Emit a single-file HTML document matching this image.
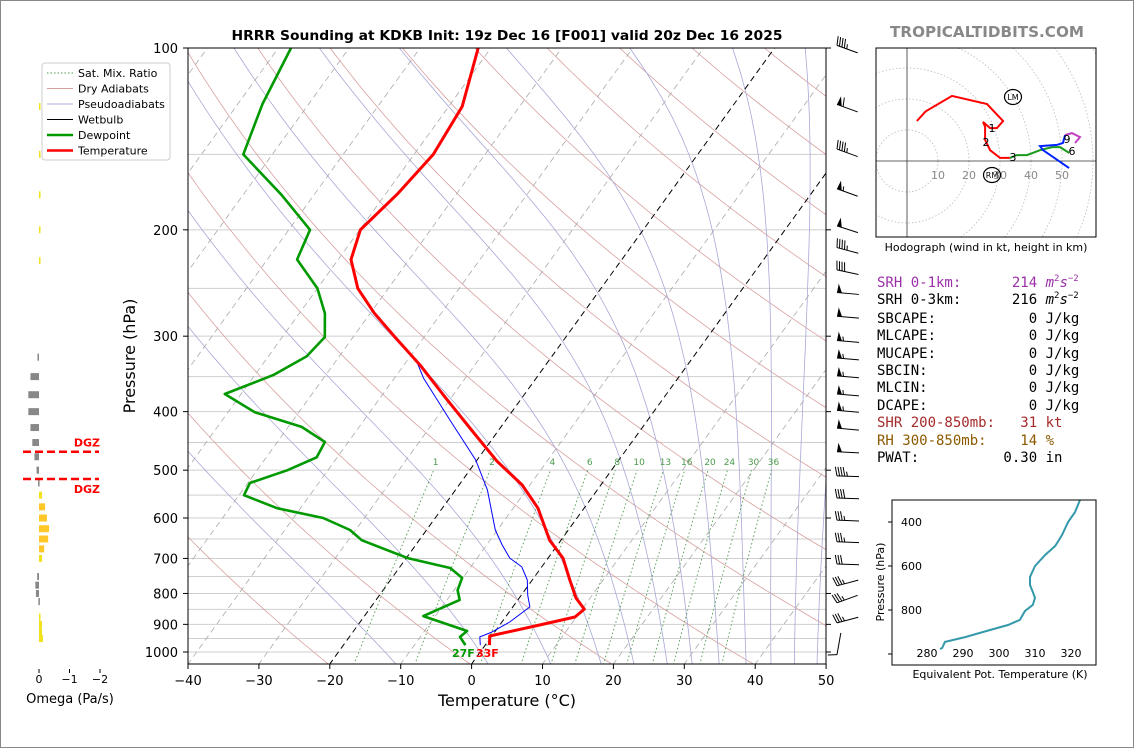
<!DOCTYPE html>
<html><head><meta charset="utf-8"><style>
html,body{margin:0;padding:0;background:#fff;}
svg{display:block;font-family:"DejaVu Sans","Liberation Sans",sans-serif;}
.mono{font-family:"DejaVu Sans Mono","Liberation Mono",monospace;font-size:14px;}
</style></head><body>
<svg id="fig" width="1134" height="748" viewBox="0 0 1134 748" xmlns="http://www.w3.org/2000/svg">
<rect x="0.5" y="0.5" width="1133" height="747" fill="#fff" stroke="#888"/>
<defs>
<clipPath id="mainclip"><rect x="188" y="48" width="638" height="616"/></clipPath>
<clipPath id="hodoclip"><rect x="876" y="48" width="220" height="189"/></clipPath>
</defs>
<text x="507" y="40" text-anchor="middle" font-size="13" font-weight="bold" textLength="551" lengthAdjust="spacingAndGlyphs">HRRR Sounding at KDKB Init: 19z Dec 16 [F001] valid 20z Dec 16 2025</text>
<text x="987" y="37" text-anchor="middle" font-size="15" font-weight="bold" fill="#888" textLength="194" lengthAdjust="spacingAndGlyphs">TROPICALTIDBITS.COM</text>
<g id="bg" clip-path="url(#mainclip)"></g>
<g id="series" clip-path="url(#mainclip)"></g>
<rect x="188" y="48" width="638" height="616" fill="none" stroke="#000" stroke-width="1"/>
<g id="axes"></g>
<text x="135" y="356" transform="rotate(-90 135 356)" text-anchor="middle" font-size="16">Pressure (hPa)</text>
<text x="507" y="706" text-anchor="middle" font-size="16">Temperature (°C)</text>
<text x="452" y="657" font-size="11" font-weight="bold" fill="#009900">27F</text>
<text x="476" y="657" font-size="11" font-weight="bold" fill="#ff0000">33F</text>
<g id="legend">
<rect x="42" y="63" width="128" height="97" fill="#fff" stroke="#ccc" rx="3"/>
</g>
<g id="barbs"></g>
<g id="omega"></g>
<text x="70" y="703" text-anchor="middle" font-size="13">Omega (Pa/s)</text>
<g id="hodo"></g>
<text x="986" y="251" text-anchor="middle" font-size="11">Hodograph (wind in kt, height in km)</text>
<g class="mono">
<text x="877" y="287" fill="#9b30a8" xml:space="preserve">SRH 0-1km:      214 <tspan font-style="italic">m</tspan><tspan font-size="9" dy="-6">2</tspan><tspan font-style="italic" dy="6">s</tspan><tspan font-size="9" dy="-6">−2</tspan></text>
<text x="877" y="304" xml:space="preserve">SRH 0-3km:      216 <tspan font-style="italic">m</tspan><tspan font-size="9" dy="-6">2</tspan><tspan font-style="italic" dy="6">s</tspan><tspan font-size="9" dy="-6">−2</tspan></text>
<text x="877" y="323" xml:space="preserve">SBCAPE:           0 J/kg</text>
<text x="877" y="340" xml:space="preserve">MLCAPE:           0 J/kg</text>
<text x="877" y="358" xml:space="preserve">MUCAPE:           0 J/kg</text>
<text x="877" y="375" xml:space="preserve">SBCIN:            0 J/kg</text>
<text x="877" y="392" xml:space="preserve">MLCIN:            0 J/kg</text>
<text x="877" y="410" xml:space="preserve">DCAPE:            0 J/kg</text>
<text x="877" y="427" fill="#a52a2a" xml:space="preserve">SHR 200-850mb:   31 kt</text>
<text x="877" y="445" fill="#8b5a00" xml:space="preserve">RH 300-850mb:    14 %</text>
<text x="877" y="462" xml:space="preserve">PWAT:          0.30 in</text>
</g>
<g id="thetae"></g>
<text x="1000" y="678" text-anchor="middle" font-size="11">Equivalent Pot. Temperature (K)</text>
<text x="884" y="582" transform="rotate(-90 884 582)" text-anchor="middle" font-size="11">Pressure (hPa)</text>
</svg>
<script>
// ---------- data ----------
const tempP = [100,125,150,174,200,224,250,275,301,335,380,434,483,529,578,653,699,760,814,849,875,902,941,974];
const tempT = [-61.8,-58.1,-57.3,-58.3,-59.9,-58.2,-54.3,-49.4,-44.1,-37.7,-30.7,-23.2,-17.1,-11.1,-6.5,-1.6,2.1,5.3,8.0,10.3,9.8,5.7,-0.3,0.6];
const dewP = [100,124,150,175,200,224,250,275,301,324,348,374,401,424,449,476,500,525,550,578,600,628,653,699,726,754,790,820,872,923,944,974];
const dewT = [-88.2,-86.5,-84.1,-74.6,-67,-65.8,-60,-56.4,-54,-54.6,-57.4,-62.3,-56.2,-48.1,-43.3,-42.9,-45.7,-49.7,-49.3,-43.3,-35.8,-30.8,-28.1,-19.8,-12.8,-10.1,-9.5,-8.2,-11.7,-4,-4.4,-2.8];
const wbP = [100,125,150,174,200,224,250,275,301,330,352,413,481,539,628,665,699,723,760,805,842,892,927,944,974];
const wbT = [-61.8,-58.1,-57.3,-58.3,-59.9,-58.2,-54.3,-49.4,-44.1,-38.6,-35.9,-27.9,-20.2,-15.5,-10.3,-7.8,-5.4,-2.8,-0.7,0.9,2.4,1.1,-0.4,-1.6,-0.7];
const pressureTicks = [100,200,300,400,500,600,700,800,900,1000];
const tempTicks = [-40,-30,-20,-10,0,10,20,30,40,50];
const mixRatios = [1,2,4,6,8,10,13,16,20,24,30,36];
const barbP = [99,124,147,171,197,214,233,254,278,305,326,349,374,398,426,466,511,556,605,657,715,777,829,895,1010];
const barbSpd = [45,60,45,55,50,45,40,50,50,55,55,55,55,55,50,50,45,40,35,35,30,35,35,35,10];
const barbDir = [290,290,290,290,288,285,282,275,275,275,275,275,275,275,275,273,272,272,272,272,272,255,250,255,190];
const omegaP = [125,150,175,200,225,325,350,375,400,425,450,475,500,525,550,575,600,625,650,675,700,725,750,775,800,825,850,875,900,925,950];
const omegaV = [-0.05,-0.05,-0.05,-0.05,-0.05,0.05,0.28,0.35,0.35,0.28,0.22,0.15,0.08,0.03,-0.1,-0.2,-0.26,-0.33,-0.3,-0.17,-0.1,0,0.06,0.12,0.1,0.02,0,-0.03,-0.1,-0.1,-0.13];
const dgzP = [466,517];
const hodoRedU = [3.2,6,14.5,25.8,31,29,26.8,24.5,25.2,25.2,26.8,30,33.2];
const hodoRedV = [12.9,16,21,18.4,12.9,10.6,10.6,12.6,11,6.8,3.5,1,1];
const hodoGreenU = [33.2,35.5,38.7,42.9,46.8,49.4,52.3];
const hodoGreenV = [1,1.9,1.9,3.5,4.5,4.5,2.6];
const hodoBlueU = [52.3,43.9,42.9,48.4,50.3,51];
const hodoBlueV = [-2.3,3.5,4.8,5.2,5.8,8.4];
const hodoMagU = [51,53.2,55.8,54.2];
const hodoMagV = [8.4,9,7.7,5.8];
const thetaeT = [322.5,321.1,319.2,317.5,315.6,312.8,310,308.6,308.6,309.4,310,309.4,307.2,305.8,302.5,297.5,290.6,285,284.2,283.6];
const thetaeP = [300,355,400,459,509,550,600,650,686,718,745,777,805,845,868,891,923,945,973,977];
const moistStartT = [-10.5,2.5,11.3,18.4,23,27.7,31.2,35,38.8,42.3,45.6,48.8];

// ---------- helpers ----------
const NS = "http://www.w3.org/2000/svg";
function mk(tag, attrs, parent){const e=document.createElementNS(NS,tag);for(const k in attrs)e.setAttribute(k,attrs[k]);parent.appendChild(e);return e;}
function yP(p){return 48 + 604*Math.log10(p/100);}
function xT(T,p){return 188 + (T+40)*7.09 + (664 - yP(p))*0.722;}
function pts(arrX, arrY){return arrX.map((v,i)=>v.toFixed(1)+","+arrY[i].toFixed(1)).join(" ");}
function es(Tc){return 6.112*Math.exp(17.67*Tc/(Tc+243.5));}

const bg = document.getElementById('bg');
const pLevels=[]; for(let p=1050;p>=100;p-=5)pLevels.push(p);

// pressure grid
for(let p=100;p<=1050;p+=50){
  const l=mk('line',{x1:188,x2:826,y1:yP(p),y2:yP(p),stroke:'#cfcfcf','stroke-width':1},bg);
  
  
}
// dry adiabats
for(let t0=-60;t0<=260;t0+=20){
  const th=t0+273.15;
  const xs=pLevels.map(p=>xT(th*Math.pow(p/1050,0.286)-273.15,p)), ys=pLevels.map(yP);
  const e=mk('polyline',{points:pts(xs,ys),fill:'none',stroke:'#d9a0a0','stroke-width':0.8},bg);
  
  
}
// moist adiabats
moistStartT.forEach(t0=>{
  let T=t0+273.15; const xs=[],ys=[];
  for(let p=1050;p>=100;p-=2){
    if(p%10===0){xs.push(xT(T-273.15,p));ys.push(yP(p));}
    const Tc=T-273.15, e=es(Tc), rs=0.622*e/(p-e);
    const num=287*T+2.5e6*rs, den=1004+2.5e6*2.5e6*rs*0.622/(287*T*T);
    T -= (num/den)/p*2;
  }
  const e=mk('polyline',{points:pts(xs,ys),fill:'none',stroke:'#a8a8d8','stroke-width':0.8},bg);
  
  
});
// isotherms
for(let t=-120;t<=50;t+=10){
  const black=(t===0||t===-20);
  const e=mk('line',{x1:xT(t,1050),y1:yP(1050),x2:xT(t,100),y2:yP(100),stroke:black?'#000':'#aaa','stroke-width':black?1:0.8,'stroke-dasharray':'6,4'},bg);
  
  
}
// mixing ratio
mixRatios.forEach(w=>{
  const xs=[],ys=[];
  for(let p=1050;p>=500;p-=10){const e=w*p/(622+w);const l=Math.log(e/6.112);const Td=243.5*l/(17.67-l);xs.push(xT(Td,p));ys.push(yP(p));}
  const e=mk('polyline',{points:pts(xs,ys),fill:'none',stroke:'#4a9a4a','stroke-width':0.9,'stroke-dasharray':'1.5,2.5'},bg);
  
  
  const tx=mk('text',{x:xs[xs.length-1]+2,y:yP(490),'font-size':9,fill:'#4a9a4a','text-anchor':'middle'},bg);
  tx.textContent=w;
  
  
});

// series
const series=document.getElementById('series');
function drawProfile(P,T,color,width,name){
  const e=mk('polyline',{points:pts(T.map((t,i)=>xT(t,P[i])),P.map(yP)),fill:'none',stroke:color,'stroke-width':width,'stroke-linejoin':'round'},series);
  
  
}
drawProfile(dewP,dewT,'#009900',2.6,'dewpoint-line');
drawProfile(wbP,wbT,'#0000ff',1,'wetbulb-line');
drawProfile(tempP,tempT,'#ff0000',3,'temperature-line');

// axes ticks
const axes=document.getElementById('axes');
pressureTicks.forEach(p=>{
  const y=yP(p);
  const l=mk('line',{x1:183,x2:188,y1:y,y2:y,stroke:'#000'},axes);
  
  
  const l2=mk('line',{x1:826,x2:831,y1:y,y2:y,stroke:'#000'},axes);
  
  
  const t=mk('text',{x:178,y:y+5,'text-anchor':'end','font-size':13},axes);
  t.textContent=p;
  
  
});
tempTicks.forEach(T=>{
  const x=188+(T+40)*7.09;
  const l=mk('line',{x1:x,x2:x,y1:664,y2:669,stroke:'#000'},axes);
  
  
  const t=mk('text',{x:x,y:685,'text-anchor':'middle','font-size':13},axes);
  t.textContent=(T<0?'−'+(-T):T);
  
  
});

// legend
const legend=document.getElementById('legend');
const legItems=[['Sat. Mix. Ratio','#4a9a4a',1,'1.5,2'],['Dry Adiabats','#d9a0a0',1,''],['Pseudoadiabats','#a8a8d8',1,''],['Wetbulb','#000',1,''],['Dewpoint','#009900',2.5,''],['Temperature','#ff0000',2.5,'']];
legItems.forEach((it,i)=>{
  const y=73+i*15.5;
  const l=mk('line',{x1:47,x2:73,y1:y,y2:y,stroke:it[1],'stroke-width':it[2]},legend);
  if(it[3])l.setAttribute('stroke-dasharray',it[3]);
  
  
  const t=mk('text',{x:78,y:y+4,'font-size':11},legend);
  t.textContent=it[0];
  
  
});

// wind barbs
const barbs=document.getElementById('barbs');
barbP.forEach((p,i)=>{
  const th=(barbDir[i]-270)*Math.PI/180;
  const Lx=837,Ly=yP(p);
  const ux=Math.cos(th),uy=Math.sin(th), nx=Math.sin(th), ny=-Math.cos(th);
  const g=mk('g',{},barbs);
  
  
  mk('line',{x1:Lx,y1:Ly,x2:Lx+22*ux,y2:Ly+22*uy,stroke:'#000','stroke-width':1},g);
  let s=barbSpd[i], pos=0;
  while(s>=50){
    const a=[Lx+pos*ux,Ly+pos*uy],b=[Lx+(pos+5)*ux,Ly+(pos+5)*uy],c=[a[0]+9*nx+1*ux,a[1]+9*ny+1*uy];
    mk('polygon',{points:a.join(',')+' '+c.join(',')+' '+b.join(','),fill:'#000'},g);
    pos+=6.5; s-=50;
  }
  while(s>=10){
    const a=[Lx+pos*ux,Ly+pos*uy];
    mk('line',{x1:a[0],y1:a[1],x2:a[0]+9*nx-2*ux,y2:a[1]+9*ny-2*uy,stroke:'#000','stroke-width':1},g);
    pos+=2.6; s-=10;
  }
  if(s>=5){
    if(pos===0)pos=2.6;
    const a=[Lx+pos*ux,Ly+pos*uy];
    mk('line',{x1:a[0],y1:a[1],x2:a[0]+4.5*nx-1*ux,y2:a[1]+4.5*ny-1*uy,stroke:'#000','stroke-width':1},g);
  }
});

// omega panel
const om=document.getElementById('omega');
const zeroX=39, perUnit=30.5;
omegaP.forEach((p,i)=>{
  const v=omegaV[i]; if(v===0)return;
  const x2=zeroX - v*perUnit;
  const col=v>0?'#888':(v<-0.15?'#ffc828':'#f2e21e');
  const r=mk('rect',{x:Math.min(zeroX,x2),y:yP(p)-3.5,width:Math.max(1.5,Math.abs(x2-zeroX)),height:7,fill:col},om);
  
  
});
dgzP.forEach((p,i)=>{
  const y=yP(p);
  const l=mk('line',{x1:23,x2:99,y1:y,y2:y,stroke:'#ff0000','stroke-width':2.5,'stroke-dasharray':'8,4'},om);
  
  
  const t=mk('text',{x:100,y:i===0?y-5:y+14,'text-anchor':'end','font-size':11,'font-weight':'bold',fill:'#ff0000'},om);
  t.textContent='DGZ';
  
  
});
[0,-1,-2].forEach(v=>{
  const x=zeroX - v*perUnit;
  const l=mk('line',{x1:x,x2:x,y1:669,y2:673,stroke:'#000'},om);
  
  
  const t=mk('text',{x:x,y:683,'text-anchor':'middle','font-size':11},om);
  t.textContent=v===0?'0':'−'+(-v);
  
  
});

// hodograph
const hodo=document.getElementById('hodo');
const hx=907,hy=161,hs=3.1;
const hc=mk('g',{'clip-path':'url(#hodoclip)'},hodo);
for(let r=10;r<=80;r+=10){
  const c=mk('circle',{cx:hx,cy:hy,r:r*hs,fill:'none',stroke:'#bbb','stroke-width':0.8,'stroke-dasharray':'1.5,2'},hc);
  
  
}
mk('line',{x1:hx,x2:hx,y1:48,y2:237,stroke:'#333','stroke-width':0.8},hc);
mk('line',{x1:876,x2:1096,y1:hy,y2:hy,stroke:'#333','stroke-width':0.8},hc);
[10,20,30,40,50].forEach(r=>{
  const t=mk('text',{x:hx+r*hs,y:hy+18,'text-anchor':'middle','font-size':11,fill:'#888'},hc);
  t.textContent=r;
  
  
});
function hodoLine(U,V,col,name){
  const e=mk('polyline',{points:pts(U.map(u=>hx+u*hs),V.map(v=>hy-v*hs)),fill:'none',stroke:col,'stroke-width':2},hc);
  
  
}
hodoLine(hodoRedU,hodoRedV,'#ff0000','hodograph-0-3km');
hodoLine(hodoGreenU,hodoGreenV,'#1a9a1a','hodograph-3-6km');
hodoLine(hodoBlueU,hodoBlueV,'#0022ff','hodograph-6-9km');
hodoLine(hodoMagU,hodoMagV,'#c040c0','hodograph-9km-plus');
[['1',992,132],['2',986,146],['3',1013,161],['6',1072,155],['9',1067,143]].forEach(a=>{
  const t=mk('text',{x:a[1],y:a[2],'text-anchor':'middle','font-size':11},hc);
  t.textContent=a[0];
  
  
});
[['LM',1013,97],['RM',992,175]].forEach(a=>{
  const g=mk('g',{},hc);
  
  
  mk('ellipse',{cx:a[1],cy:a[2],rx:8.5,ry:7.5,fill:'none',stroke:'#000','stroke-width':1.2},g);
  const t=mk('text',{x:a[1],y:a[2]+3,'text-anchor':'middle','font-size':8},g);
  t.textContent=a[0];
});
mk('rect',{x:876,y:48,width:220,height:189,fill:'none',stroke:'#000','stroke-width':1},hodo);

// theta-e panel
const te=document.getElementById('thetae');
function tX(t){return 927+(t-280)*3.6;}
function tY(p){return 500+(p-300)*0.22;}
const tl=mk('polyline',{points:pts(thetaeT.map(tX),thetaeP.map(tY)),fill:'none',stroke:'#3399aa','stroke-width':2},te);


mk('rect',{x:892,y:500,width:204,height:165,fill:'none',stroke:'#000','stroke-width':1},te);
[400,600,800,1000].forEach(p=>{
  mk('line',{x1:888,x2:892,y1:tY(p),y2:tY(p),stroke:'#000'},te);
  if(p<1000){const t=mk('text',{x:922,y:tY(p)+4,'text-anchor':'end','font-size':11},te);t.textContent=p;
  
  }
});
[280,290,300,310,320].forEach(v=>{
  const t=mk('text',{x:tX(v),y:657,'text-anchor':'middle','font-size':11},te);
  t.textContent=v;
  
  
});
</script>
</body></html>
